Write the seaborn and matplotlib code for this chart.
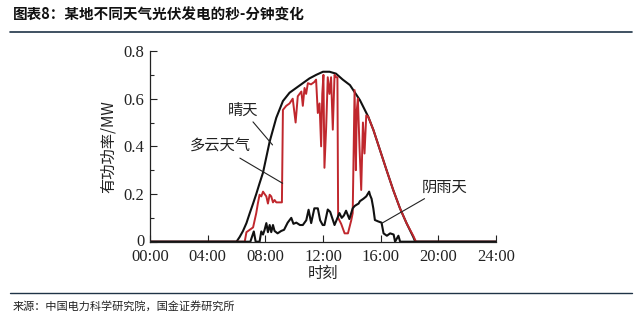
import matplotlib
matplotlib.use('Agg')
import matplotlib.pyplot as plt
from matplotlib.ticker import MultipleLocator, FuncFormatter
from matplotlib.transforms import ScaledTranslation
import seaborn as sns

# 晴天 (clear sky)
clear_t = [0, 6.0, 6.22, 6.45, 6.69, 6.92, 7.15, 7.37, 7.6, 7.84, 8.3, 8.76, 9.22, 9.68,
           10.14, 10.6, 11.06, 11.53, 12.0, 12.45, 12.9, 13.37, 13.87, 14.56, 15.14, 15.5,
           15.95, 16.41, 16.87, 17.34, 17.8, 18.26, 18.4, 24]
clear_v = [0, 0, 0.02, 0.045, 0.078, 0.12, 0.16, 0.2, 0.245, 0.29, 0.42, 0.52, 0.59, 0.625,
           0.645, 0.665, 0.685, 0.70, 0.713, 0.713, 0.705, 0.68, 0.657, 0.594, 0.524, 0.468,
           0.385, 0.30, 0.217, 0.14, 0.077, 0.02, 0, 0]

# 多云天气 (cloudy)
cloudy_t = [0, 6.57, 6.69, 6.92, 7.15, 7.37, 7.48, 7.6, 7.72, 7.84, 7.95, 8.07, 8.18, 8.3,
            8.41, 8.53, 8.64, 8.76, 8.99, 9.15, 9.22, 9.45, 9.68, 9.9, 10.1, 10.25, 10.5,
            10.6, 10.72, 10.83, 10.95, 11.17, 11.4, 11.52, 11.64, 11.76, 11.87, 11.95, 12.03,
            12.1, 12.22, 12.33, 12.45, 12.56, 12.68, 12.8, 12.9, 13.0, 13.05, 13.26, 13.5,
            13.73, 13.96, 14.06, 14.19, 14.28, 14.34, 14.42, 14.53, 14.65, 14.77, 14.88,
            15.0, 15.14, 15.5, 15.95, 16.41, 16.87, 17.34, 17.8, 18.26, 18.45, 24]
cloudy_v = [0, 0, 0.04, 0.05, 0.06, 0.12, 0.16, 0.197, 0.19, 0.21, 0.2, 0.19, 0.16, 0.197,
            0.19, 0.165, 0.175, 0.165, 0.165, 0.165, 0.553, 0.57, 0.58, 0.6, 0.50, 0.61, 0.63,
            0.57, 0.645, 0.62, 0.665, 0.66, 0.67, 0.68, 0.54, 0.58, 0.40, 0.62, 0.70,
            0.31, 0.48, 0.69, 0.62, 0.69, 0.47, 0.70, 0.69, 0.69, 0.10, 0.075, 0.035,
            0.035, 0.09, 0.12, 0.636, 0.30, 0.55, 0.6, 0.4, 0.217, 0.5, 0.37,
            0.53, 0.524, 0.468, 0.385, 0.30, 0.217, 0.14, 0.077, 0.025, 0, 0]

# 阴雨天 (rainy)
rainy_t = [0, 6.96, 7.2, 7.33, 7.6, 7.72, 7.84, 7.95, 8.07, 8.18, 8.3, 8.41, 8.53, 8.64,
           8.85, 9.1, 9.3, 9.55, 9.8, 9.95, 10.15, 10.4, 10.6, 10.84, 11.0, 11.18, 11.4,
           11.64, 11.8, 11.98, 12.1, 12.33, 12.5, 12.8, 13.14, 13.3, 13.45, 13.6, 13.83,
           14.06, 14.2, 14.33, 14.47, 14.56, 14.8, 15.0, 15.1, 15.2, 15.26, 15.37, 15.49,
           15.6, 15.83, 16.06, 16.2, 16.43, 16.66, 16.9, 17.0, 17.23, 17.35, 24]
rainy_v = [0, 0, 0.043, 0, 0, 0.043, 0.03, 0.05, 0.078, 0.04, 0.07, 0.04, 0.07, 0.045,
           0.035, 0.045, 0.05, 0.08, 0.1, 0.075, 0.08, 0.07, 0.07, 0.09, 0.134, 0.078, 0.14,
           0.14, 0.09, 0.07, 0.07, 0.135, 0.125, 0.07, 0.12, 0.10, 0.11, 0.13, 0.095,
           0.14, 0.15, 0.155, 0.16, 0.17, 0.18, 0.19, 0.2, 0.21, 0.196, 0.18, 0.14,
           0.091, 0.085, 0.08, 0.035, 0.025, 0.035, 0.03, 0, 0.025, 0, 0]

x_ticks = [0, 4, 8, 12, 16, 20, 24]
y_ticks = [0, 0.2, 0.4, 0.6, 0.8]

sns.set_style('ticks')
plt.rcParams['font.family'] = ['Noto Sans CJK SC', 'DejaVu Sans']
plt.rcParams['axes.unicode_minus'] = False
cjk = ['Noto Sans CJK SC', 'DejaVu Sans']
serif = ['Liberation Serif', 'DejaVu Serif']

fig = plt.figure(figsize=(6.42, 3.21), dpi=100)
ax = fig.add_axes([150 / 642, 1 - 241.7 / 321, 346 / 642, 190.7 / 321])

red = '#c0272d'
sns.lineplot(x=clear_t, y=clear_v, ax=ax, color='#111111', lw=1.5, sort=False, estimator=None)
sns.lineplot(x=cloudy_t, y=cloudy_v, ax=ax, color=red, lw=1.4, sort=False, estimator=None)
sns.lineplot(x=rainy_t, y=rainy_v, ax=ax, color='#111111', lw=1.5, sort=False, estimator=None)

ax.set_xlim(0, 24)
ax.set_ylim(0, 0.8)
ax.set_xticks(x_ticks)
ax.xaxis.set_major_formatter(FuncFormatter(lambda v, p: '%02d:00' % int(v)))
ax.set_yticks(y_ticks)
ax.yaxis.set_major_formatter(FuncFormatter(lambda v, p: '0' if v == 0 else '%.1f' % v))
ax.yaxis.set_minor_locator(MultipleLocator(0.1))
ax.tick_params(axis='both', which='major', direction='in', length=5, width=0.8,
               labelsize=12, colors='#222222')
ax.tick_params(axis='x', which='major', pad=5)
ax.tick_params(axis='y', which='major', pad=4)
ax.tick_params(axis='y', which='minor', direction='in', length=3, width=0.8)
for lab in ax.get_xticklabels() + ax.get_yticklabels():
    lab.set_family(serif)
# lift the "0" label a touch so it clears "00:00"
zero_lab = ax.get_yticklabels()[0]
zero_lab.set_transform(zero_lab.get_transform() + ScaledTranslation(0, 2 / 100, fig.dpi_scale_trans))
sns.despine(ax=ax)
for s in ['left', 'bottom']:
    ax.spines[s].set_linewidth(0.9)
    ax.spines[s].set_color('#222222')

ax.set_xlabel('时刻', fontsize=11, family=cjk, labelpad=0.5, color='#222222')
ax.set_ylabel('有功功率/MW', fontsize=11, family=cjk, labelpad=5, color='#222222')

lbl = dict(fontsize=11, family=cjk, ha='center', va='center', color='#222222',
           arrowprops=dict(arrowstyle='-', lw=0.8, color='#222222', shrinkA=0, shrinkB=0))
ax.annotate('晴天', xy=(8.5, 0.406), xytext=(6.45, 0.552), **lbl)
ax.annotate('多云天气', xy=(9.2, 0.245), xytext=(4.85, 0.40), **lbl)
ax.annotate('阴雨天', xy=(16.07, 0.077), xytext=(20.46, 0.23), **lbl)

fig.text(13 / 642, 1 - 15 / 321, '图表8：某地不同天气光伏发电的秒-分钟变化', fontsize=10.5,
         fontweight='bold', family=cjk, ha='left', va='center', color='#111111')
fig.add_artist(plt.Line2D([10 / 642, 632 / 642], [1 - 32 / 321, 1 - 32 / 321],
                          color='#1f3347', lw=1.2))
fig.add_artist(plt.Line2D([10 / 642, 632 / 642], [1 - 293 / 321, 1 - 293 / 321],
                          color='#1f3347', lw=1.0))
fig.text(13 / 642, 1 - 306 / 321, '来源：中国电力科学研究院，国金证券研究所', fontsize=8,
         family=cjk, ha='left', va='center', color='#222222')

fig.savefig('out.png', dpi=100)
